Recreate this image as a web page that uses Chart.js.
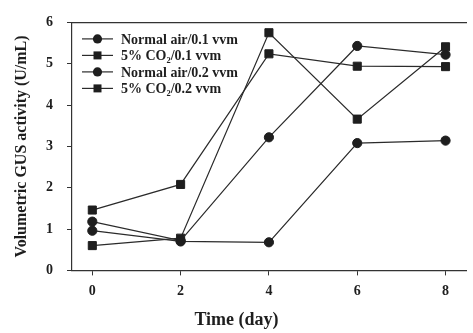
<!DOCTYPE html>
<html>
<head>
<meta charset="utf-8">
<script src="https://cdn.jsdelivr.net/npm/chart.js@4"></script>
<style>body{margin:0;background:#fff}</style>
</head>
<body>
<canvas id="c" width="473" height="333"></canvas>
<script>
// data
var days = [0, 2, 4, 6, 8];
var seriesNames = ['Normal air/0.1 vvm', '5% CO\u2082/0.1 vvm', 'Normal air/0.2 vvm', '5% CO\u2082/0.2 vvm'];
var normalAir01 = [1.18, 0.72, 3.22, 5.43, 5.22];
var co2_01 = [1.46, 2.08, 5.24, 4.94, 4.93];
var normalAir02 = [0.96, 0.70, 0.68, 3.08, 3.14];
var co2_02 = [0.60, 0.78, 5.75, 3.66, 5.41];
var xTicks = [0, 2, 4, 6, 8];
var yTicks = [0, 1, 2, 3, 4, 5, 6];

var serif = '"Liberation Serif", "DejaVu Serif", serif';
var ink = '#1e1e1e';

function makeSet(label, values, style) {
  return {
    label: label,
    data: days.map(function (d, i) { return {x: d, y: values[i]}; }),
    pointStyle: style,
    pointRadius: style === 'rect' ? 5.7 : 4.6,
    pointBackgroundColor: ink,
    pointBorderColor: ink,
    pointBorderWidth: 1,
    borderColor: '#2b2b2b',
    borderWidth: 1.2,
    tension: 0,
    fill: false
  };
}

// legend drawn inside the plot, line + marker like the original
var insideLegend = {
  id: 'insideLegend',
  afterDatasetsDraw: function (chart) {
    var ctx = chart.ctx;
    var area = chart.chartArea;
    ctx.save();
    chart.data.datasets.forEach(function (ds, i) {
      var y = area.top + 16.5 + i * 16.5;
      var x0 = area.left + 10;
      ctx.strokeStyle = ds.borderColor;
      ctx.lineWidth = ds.borderWidth;
      ctx.beginPath();
      ctx.moveTo(x0, y);
      ctx.lineTo(x0 + 31, y);
      ctx.stroke();
      ctx.fillStyle = ink;
      ctx.beginPath();
      if (ds.pointStyle === 'rect') {
        ctx.rect(x0 + 15.5 - 4, y - 4, 8, 8);
      } else {
        ctx.arc(x0 + 15.5, y, 4.6, 0, Math.PI * 2);
      }
      ctx.fill();
      ctx.font = 'bold 14px ' + serif;
      ctx.textBaseline = 'middle';
      ctx.textAlign = 'left';
      ctx.fillText(ds.label, x0 + 39, y + 1);
    });
    ctx.restore();
  }
};

var ctx = document.getElementById('c').getContext('2d');
new Chart(ctx, {
  type: 'line',
  data: {
    datasets: [
      makeSet(seriesNames[0], normalAir01, 'circle'),
      makeSet(seriesNames[1], co2_01, 'rect'),
      makeSet(seriesNames[2], normalAir02, 'circle'),
      makeSet(seriesNames[3], co2_02, 'rect')
    ]
  },
  options: {
    responsive: false,
    animation: false,
    devicePixelRatio: 1,
    layout: {padding: {top: 13, left: 0, right: 0, bottom: 0}},
    plugins: {
      legend: {display: false},
      tooltip: {enabled: false},
      title: {
        display: true,
        position: 'bottom',
        text: 'Time (day)',
        color: ink,
        font: {family: serif, size: 18, weight: 'bold'},
        padding: {top: 0, bottom: 2}
      }
    },
    scales: {
      x: {
        type: 'linear',
        position: 'bottom',
        min: -0.46,
        max: 8.47,
        afterBuildTicks: function (s) { s.ticks = xTicks.map(function (v) { return {value: v}; }); },
        afterFit: function (s) { s.height = 39; },
        ticks: {color: ink, padding: 8, font: {family: serif, size: 14, weight: 'bold'}},
        grid: {drawOnChartArea: false, tickLength: 5, color: '#333'},
        border: {color: '#333', width: 1.2}
      },
      xTop: {
        type: 'linear',
        position: 'top',
        min: -0.46,
        max: 8.47,
        afterFit: function (s) { s.height = 0; },
        ticks: {display: false},
        grid: {display: false},
        border: {color: '#333', width: 1.2}
      },
      y: {
        min: 0,
        max: 6,
        afterBuildTicks: function (s) { s.ticks = yTicks.map(function (v) { return {value: v}; }); },
        afterFit: function (s) { s.width = 72; },
        ticks: {color: ink, padding: 14, font: {family: serif, size: 14, weight: 'bold'}},
        grid: {drawOnChartArea: false, tickLength: 5, color: '#333'},
        border: {color: '#333', width: 1.2},
        title: {
          display: true,
          text: 'Volumetric GUS activity (U/mL)',
          color: ink,
          font: {family: serif, size: 16, weight: 'bold'},
          padding: {top: 12, bottom: 0}
        }
      }
    }
  },
  plugins: [insideLegend]
});
</script>
</body>
</html>
